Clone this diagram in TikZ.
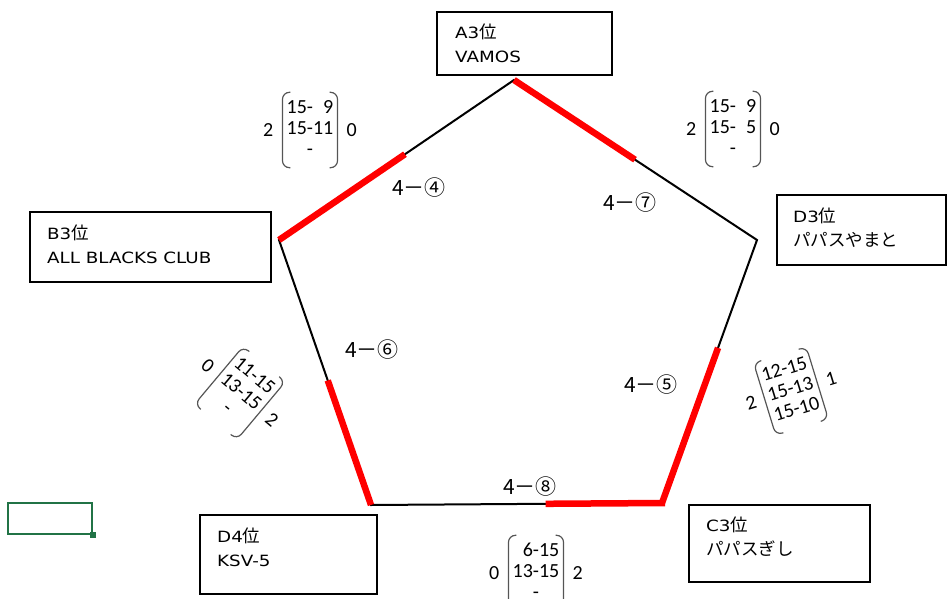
\documentclass[tikz,border=0pt]{standalone}
\usepackage{fontspec}
\setmainfont{DejaVu Sans}
\newfontfamily\jpfont{Noto Sans CJK JP}
\newfontfamily\scorefont{Carlito}
\newfontfamily\latfont[FakeStretch=1.18]{DejaVu Sans}
\usetikzlibrary{calc}
\definecolor{cellgreen}{RGB}{33,115,70}
\definecolor{parengray}{RGB}{85,85,85}
\tikzset{
  teambox/.style={draw=black, line width=2pt, inner sep=0pt, rectangle},
  teamtext/.style={anchor=west, align=left, inner sep=0pt, font=\latfont\fontsize{15.5}{24}\selectfont},
  edge/.style={line width=2pt, black},
  redseg/.style={line width=6.5pt, red},
  matchlabel/.style={anchor=west, inner sep=0pt, font=\jpfont\fontsize{21}{24}\selectfont},
  score/.style={inner xsep=4pt, inner ysep=6pt, font=\scorefont\fontsize{20}{21}\selectfont},
  side/.style={inner sep=0pt, font=\scorefont\fontsize{20}{21}\selectfont},
  paren/.style={draw=parengray, line width=1.2pt, rounded corners=7pt}
}
\newcommand\jp[1]{{\jpfont\fontsize{17.5}{24}\selectfont #1}}
\newcommand\scoreblock[6]{%
\begin{scope}[shift={#2},rotate=#3,transform shape]
\node[score] (#1) at (0,0) {#6};
\draw[paren] ($(#1.north west)!8pt!(#1.north east)$) -- (#1.north west) -- (#1.south west) -- ($(#1.south west)!8pt!(#1.south east)$);
\draw[paren] ($(#1.north east)!8pt!(#1.north west)$) -- (#1.north east) -- (#1.south east) -- ($(#1.south east)!8pt!(#1.south west)$);
\node[side,anchor=east] (#1-l) at ($(#1.west)!-9pt!(#1.east)$) {#4};
\node[side,anchor=west] (#1-r) at ($(#1.east)!-9pt!(#1.west)$) {#5};
\end{scope}}
\begin{document}
\begin{tikzpicture}[x=1pt,y=1pt]
\clip (0,0) rectangle (948,-599);
\useasboundingbox (0,0) rectangle (948,-599);
% pentagon vertices
\coordinate (P1) at (514,-80);
\coordinate (P2) at (757,-240);
\coordinate (P3) at (662,-503);
\coordinate (P4) at (371,-505);
\coordinate (P5) at (279,-240);
\draw[edge] (P1) -- (P2) -- (P3) -- (P4) -- (P5) -- cycle;
\draw[redseg] (P5) -- ($(P5)!0.536!(P1)$);
\draw[redseg] (P1) -- ($(P1)!0.498!(P2)$);
\draw[redseg] ($(P2)!0.41!(P3)$) -- (P3);
\draw[redseg] ([xshift=3pt]P3) -- ($(P3)!0.40!(P4)$);
\draw[redseg] (P4) -- ($(P4)!0.47!(P5)$);
% team boxes
\node[teambox, minimum width=175pt, minimum height=63pt] (A) at (524.5,-43.5) {};
\node[teamtext] (At) at (455,-43) {A3\jp{位}\\VAMOS};
\node[teambox, minimum width=169pt, minimum height=70pt] (D3) at (861.5,-230) {};
\node[teamtext] (D3t) at (793,-227.5) {D3\jp{位}\\\jp{パパスやまと}};
\node[teambox, minimum width=241pt, minimum height=70pt] (B3) at (150.5,-247) {};
\node[teamtext] (B3t) at (47,-244.5) {B3\jp{位}\\ALL BLACKS CLUB};
\node[teambox, minimum width=181pt, minimum height=77pt] (C3) at (779.5,-543.5) {};
\node[teamtext] (C3t) at (706,-536.5) {C3\jp{位}\\\jp{パパスぎし}};
\node[teambox, minimum width=177pt, minimum height=79pt] (D4) at (288.5,-554.5) {};
\node[teamtext] (D4t) at (217,-547.5) {D4\jp{位}\\KSV-5};
% match labels
\node[matchlabel] (m4) at (392,-188) {4－④};
\node[matchlabel] (m7) at (603,-203) {4－⑦};
\node[matchlabel] (m6) at (345,-350) {4－⑥};
\node[matchlabel] (m5) at (624,-385) {4－⑤};
\node[matchlabel] (m8) at (503,-487) {4－⑧};
% scores
\scoreblock{s1}{(310,-130)}{0}{2}{0}{\begin{tabular}{@{}r@{}}15-\phantom{1}9\\15-11\\\multicolumn{1}{@{}c@{}}{-}\end{tabular}}
\scoreblock{s2}{(733,-129)}{0}{2}{0}{\begin{tabular}{@{}r@{}}15-\phantom{1}9\\15-\phantom{1}5\\\multicolumn{1}{@{}c@{}}{-}\end{tabular}}
\scoreblock{s3}{(240,-393)}{-40}{0}{2}{\begin{tabular}{@{}r@{}}11-15\\13-15\\\multicolumn{1}{@{}c@{}}{-}\end{tabular}}
\scoreblock{s4}{(791,-391)}{17}{2}{1}{\begin{tabular}{@{}r@{}}12-15\\15-13\\15-10\end{tabular}}
\scoreblock{s5}{(536,-573)}{0}{0}{2}{\begin{tabular}{@{}r@{}}6-15\\13-15\\\multicolumn{1}{@{}c@{}}{-}\end{tabular}}
% spreadsheet cell
\node[draw=cellgreen, line width=1.5pt, minimum width=84pt, minimum height=31pt, inner sep=0pt] (cell) at (50,-518.5) {};
\node[fill=cellgreen, minimum size=6pt, inner sep=0pt] (handle) at (cell.south east) {};
\end{tikzpicture}
\end{document}
